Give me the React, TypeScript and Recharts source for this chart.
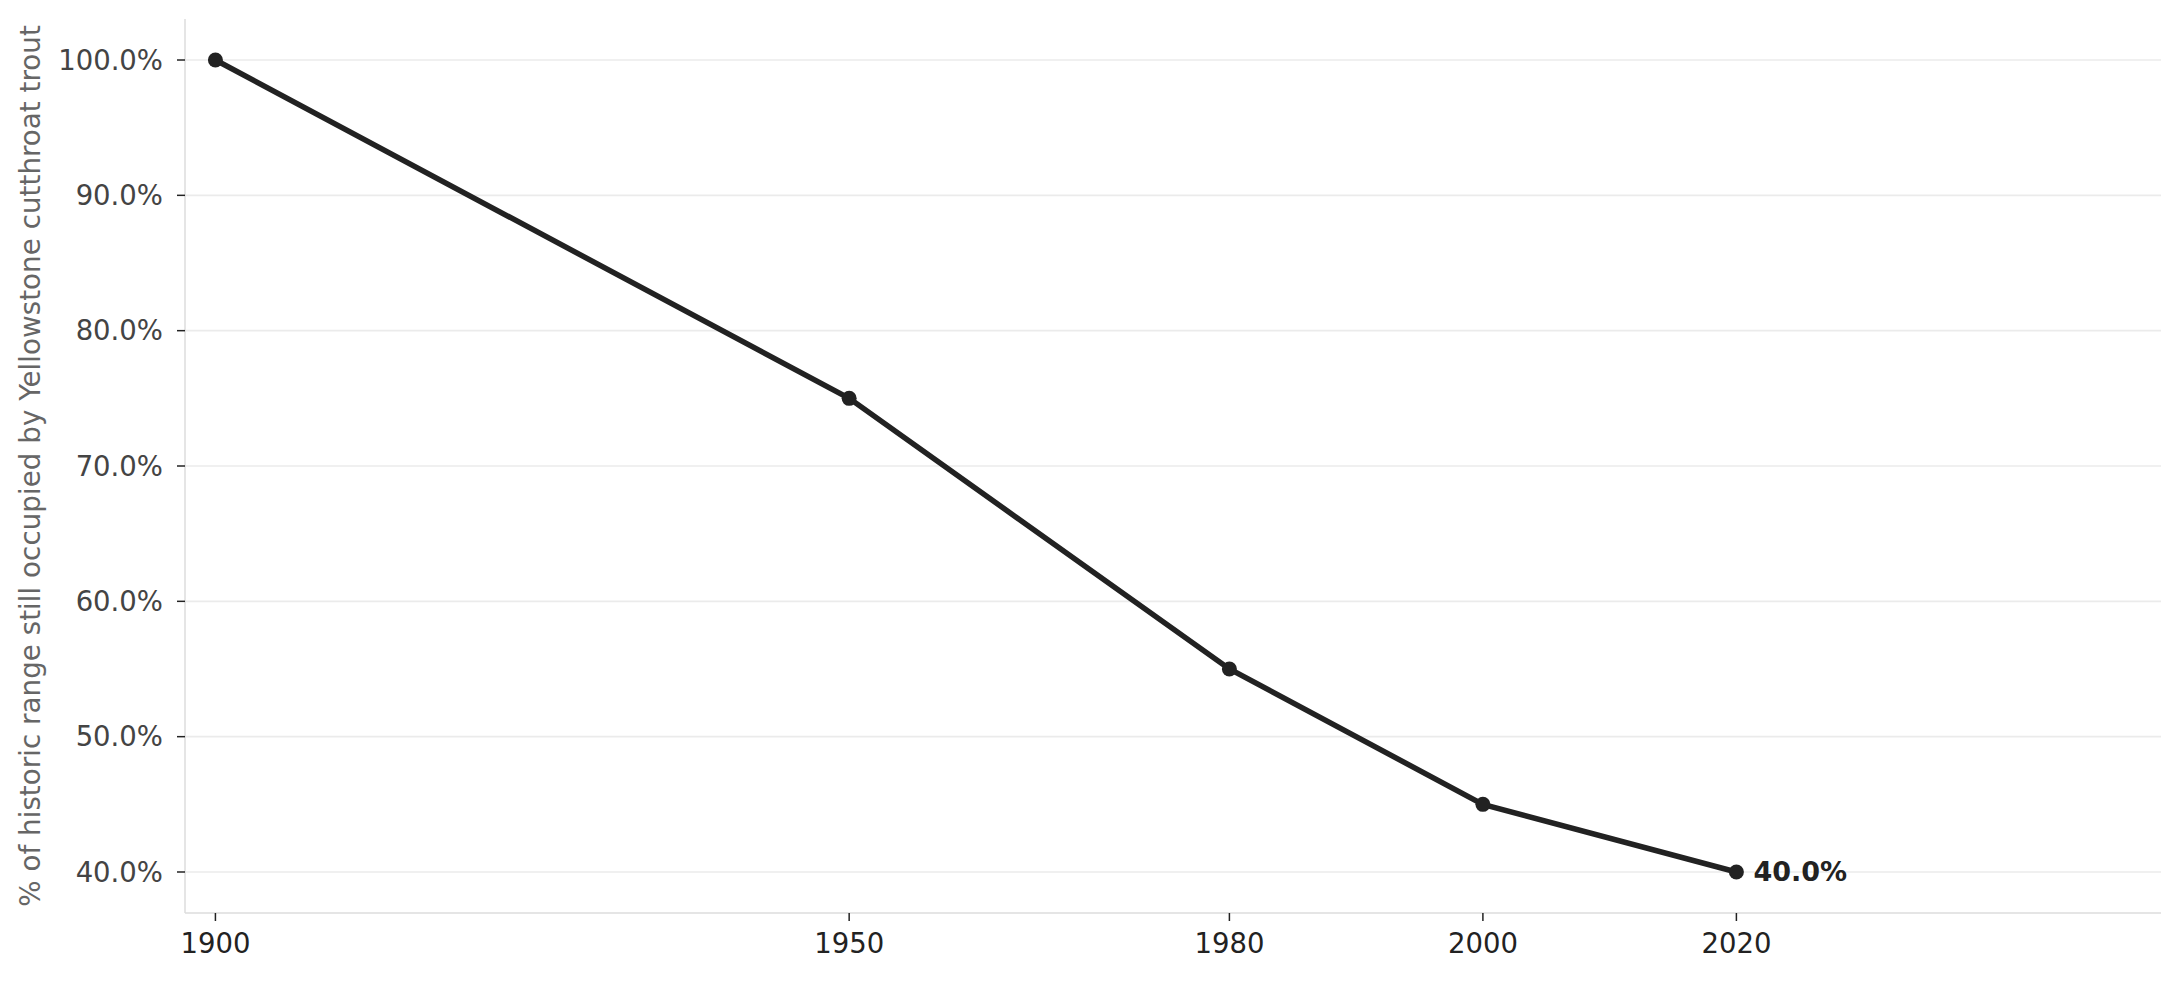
import React from 'react';
import { LineChart, Line, XAxis, YAxis, CartesianGrid, LabelList } from 'recharts';

const years = [1900, 1950, 1980, 2000, 2020];
const rangePct = [100, 75, 55, 45, 40];
const xTicks = [1900, 1950, 1980, 2000, 2020];
const yTicks = [40, 50, 60, 70, 80, 90, 100];
const yLabel = '% of historic range still occupied by Yellowstone cutthroat trout';

const data = years.map((y, i) => ({ year: y, pct: rangePct[i] }));

const FONT = '"DejaVu Sans", sans-serif';

const EndLabel = (props: any) => {
  const { x, y, index, value } = props;
  if (index !== data.length - 1) return null;
  return (
    <text x={x + 17} y={y} dominantBaseline="central" fontFamily={FONT} fontSize={27} fontWeight="bold" fill="#222">
      {Number(value).toFixed(1)}%
    </text>
  );
};

const YLabel = (props: any) => {
  const vb = props.viewBox || {};
  const cx = (vb.x || 0) + 30;
  const cy = (vb.y || 0) + (vb.height || 0) / 2;
  return (
    <text x={cx} y={cy} transform={`rotate(-90 ${cx} ${cy})`} textAnchor="middle" dominantBaseline="central" fontFamily={FONT} fontSize={27.8} fill="#666">
      {yLabel}
    </text>
  );
};

export default function App() {
  return (
    <div style={{ position: 'absolute', left: 0, top: 0, background: '#fff' }}>
      <LineChart width={2181} height={981} data={data} margin={{ top: 19, right: 20, left: 0, bottom: 0 }}>
        <CartesianGrid vertical={false} syncWithTicks horizontalValues={yTicks} stroke="#ebebeb" strokeWidth={1.7} />
        <XAxis
          dataKey="year"
          type="number"
          domain={[1897.6, 2053.5]}
          allowDataOverflow
          ticks={xTicks}
          height={68}
          tickSize={8}
          tickMargin={12}
          axisLine={{ stroke: '#dddddd', strokeWidth: 1.5 }}
          tickLine={{ stroke: '#222', strokeWidth: 1.5 }}
          tick={{ fontFamily: FONT, fontSize: 27.5, fill: '#222' }}
        />
        <YAxis
          type="number"
          domain={[36.97, 103.03]}
          allowDataOverflow
          ticks={yTicks}
          width={185}
          tickSize={8}
          tickMargin={14}
          axisLine={{ stroke: '#dddddd', strokeWidth: 1.5 }}
          tickLine={{ stroke: '#222', strokeWidth: 1.5 }}
          tick={{ fontFamily: FONT, fontSize: 27.5, fill: '#444' }}
          tickFormatter={(v: number) => `${v.toFixed(1)}%`}
          label={{ content: YLabel }}
        />
        <Line
          type="linear"
          dataKey="pct"
          stroke="#222"
          strokeWidth={5.5}
          dot={{ r: 7.5, fill: '#222', stroke: 'none' }}
          activeDot={false}
          isAnimationActive={false}
        >
          <LabelList dataKey="pct" content={EndLabel} />
        </Line>
      </LineChart>
    </div>
  );
}
